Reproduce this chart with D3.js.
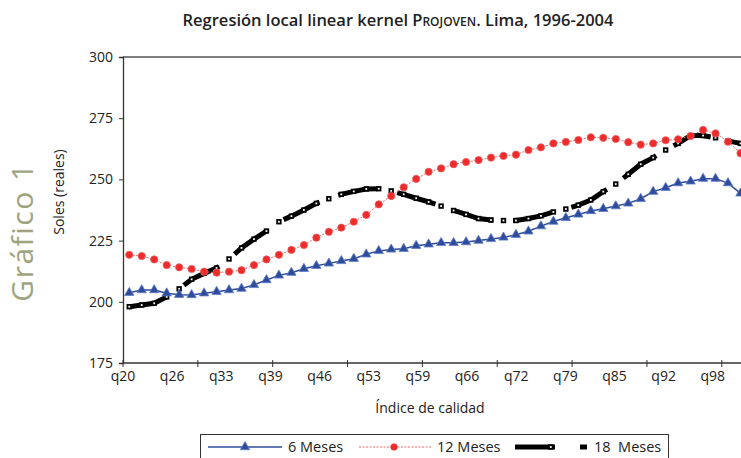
<!DOCTYPE html>
<html>
<head>
<meta charset="utf-8">
<script src="https://cdn.jsdelivr.net/npm/d3@7"></script>
<style>
    body { margin: 0; background: #fff; }
    svg { display: block; font-family: "Open Sans", Lato, sans-serif; }
</style>
</head>
<body>
<svg id="chart" width="741" height="458"></svg>
<script>
// category labels shown on the x axis (one every ~4 categories)
const xLabels = ['q20', 'q26', 'q33', 'q39', 'q46', 'q53', 'q59', 'q66', 'q72', 'q79', 'q85', 'q92', 'q98'];
const yTicks = [175, 200, 225, 250, 275, 300];

// ingresos estimados por kernel, 50 puntos de calidad
const meses6 = [203.7, 204.8, 204.8, 203.5, 202.9, 202.8, 203.5, 204.1, 204.8, 205.4,
    206.9, 208.9, 210.8, 211.9, 213.5, 214.7, 215.7, 216.7, 217.6, 219.4,
    220.8, 221.4, 221.7, 222.9, 223.5, 224.1, 224.1, 224.4, 225.0, 225.7,
    226.3, 227.4, 228.8, 230.9, 232.8, 234.3, 235.7, 237.1, 238.0, 239.1,
    240.2, 242.1, 245.0, 246.6, 248.5, 249.2, 250.3, 250.3, 248.5, 244.3];
const meses12 = [219.2, 218.7, 217.3, 215.0, 214.1, 213.4, 212.3, 211.9, 212.3, 212.9,
    215.0, 217.3, 219.2, 221.2, 223.2, 226.2, 228.6, 230.3, 232.7, 235.5,
    239.8, 243.2, 246.8, 250.2, 253.1, 254.5, 256.2, 257.1, 257.9, 258.9,
    259.6, 260.1, 262.0, 263.1, 264.7, 265.3, 266.1, 267.2, 267.0, 266.5,
    265.2, 264.2, 264.7, 266.0, 266.4, 267.7, 270.2, 268.8, 265.4, 260.7];
const meses18 = [198.0, 198.7, 199.4, 202.0, 205.3, 209.2, 211.6, 213.8, 217.5, 222.0,
    225.6, 228.9, 232.7, 235.0, 237.5, 240.2, 242.1, 243.9, 245.1, 246.1,
    246.2, 245.3, 243.9, 242.3, 240.8, 239.1, 237.3, 235.7, 234.0, 233.4,
    233.2, 233.2, 234.0, 235.1, 236.7, 237.9, 239.5, 241.6, 245.0, 248.1,
    252.1, 256.2, 258.9, 262.0, 264.7, 267.9, 267.9, 267.0, 265.7, 264.7];

const blue = '#2f4c9c';
const red = '#ee2b2b';

const chartLines = () => {
    const svg = d3.select('#chart');
    const left = 123, right = 741, top = 57, bottom = 363;

    // category axis: points sit in the middle of each category
    const x = d3.scaleLinear().domain([-0.5, 49.04]).range([left, right]);
    const y = d3.scaleLinear().domain([175, 300]).range([bottom, top]);

    // title
    const title = svg.append('text')
        .attr('x', 398).attr('y', 26)
        .attr('text-anchor', 'middle')
        .style('font-size', '16.5px')
        .style('font-weight', 600)
        .attr('fill', '#222');
    title.append('tspan').text('Regresión local linear kernel ');
    title.append('tspan').style('font-variant', 'small-caps').text('Projoven');
    title.append('tspan').text('. Lima, 1996-2004');

    // side label
    svg.append('text')
        .attr('transform', 'translate(33,232) rotate(-90)')
        .attr('text-anchor', 'middle')
        .style('font-size', '30px')
        .style('letter-spacing', '1.5px')
        .attr('fill', '#9fa47e')
        .text('Gráfico 1');

    svg.append('text')
        .attr('transform', 'translate(64,192) rotate(-90)')
        .attr('text-anchor', 'middle')
        .style('font-size', '14px')
        .attr('fill', '#222')
        .text('Soles (reales)');

    svg.append('text')
        .attr('x', 430).attr('y', 413)
        .attr('text-anchor', 'middle')
        .style('font-size', '14px')
        .attr('fill', '#222')
        .text('Índice de calidad');

    // frame
    svg.append('line')
        .attr('x1', left).attr('x2', right).attr('y1', top).attr('y2', top)
        .attr('stroke', '#555').attr('stroke-width', 1.3);

    // y axis
    const yAxis = svg.append('g')
        .attr('transform', `translate(${left},0)`)
        .call(d3.axisLeft(y).tickValues(yTicks).tickSize(4).tickPadding(6));
    yAxis.select('.domain').attr('stroke', '#333').attr('stroke-width', 1.3);
    yAxis.selectAll('.tick line').attr('stroke', '#333');
    yAxis.selectAll('.tick text')
        .style('font-size', '14px')
        .style('font-family', '"Open Sans", sans-serif')
        .attr('fill', '#222');

    // x axis: tick marks every 6 categories, labels every ~4
    const tickPos = d3.range(-0.5, 49, 6);
    const xAxis = svg.append('g').attr('transform', `translate(0,${bottom})`);
    xAxis.append('line')
        .attr('x1', left).attr('x2', right)
        .attr('stroke', '#333').attr('stroke-width', 1.3);
    xAxis.selectAll('line.tk')
        .data(tickPos)
        .join('line')
        .attr('class', 'tk')
        .attr('x1', d => x(d)).attr('x2', d => x(d))
        .attr('y1', -3).attr('y2', 4)
        .attr('stroke', '#333');
    xAxis.selectAll('text')
        .data(xLabels)
        .join('text')
        .attr('x', (d, i) => x(-0.5 + i * 3.94))
        .attr('y', 18)
        .attr('text-anchor', 'middle')
        .style('font-size', '14px')
        .attr('fill', '#222')
        .text(d => d);

    const line = d3.line()
        .x((d, i) => x(i))
        .y(d => y(d));

    // 18 meses: thick long-dash line with hollow squares
    svg.append('path')
        .datum(meses18)
        .attr('d', line)
        .attr('fill', 'none')
        .attr('stroke', '#000')
        .attr('stroke-width', 5)
        .attr('stroke-dasharray', '40,20');
    svg.append('g').selectAll('rect')
        .data(meses18)
        .join('rect')
        .attr('x', (d, i) => x(i) - 1.8)
        .attr('y', d => y(d) - 1.8)
        .attr('width', 3.6).attr('height', 3.6)
        .attr('fill', '#fff')
        .attr('stroke', '#000')
        .attr('stroke-width', 1.8);

    // 12 meses: thin dotted red line with dots
    svg.append('path')
        .datum(meses12)
        .attr('d', line)
        .attr('fill', 'none')
        .attr('stroke', '#f26a6a')
        .attr('stroke-width', 1)
        .attr('stroke-dasharray', '2,1.5');
    svg.append('g').selectAll('circle')
        .data(meses12)
        .join('circle')
        .attr('cx', (d, i) => x(i))
        .attr('cy', d => y(d))
        .attr('r', 3.6)
        .attr('fill', red)
        .attr('stroke', '#f35555')
        .attr('stroke-width', 0.8);

    // 6 meses: blue line with triangles
    const tri = d3.symbol().type(d3.symbolTriangle).size(38);
    svg.append('path')
        .datum(meses6)
        .attr('d', line)
        .attr('fill', 'none')
        .attr('stroke', blue)
        .attr('stroke-width', 1.5);
    svg.append('g').selectAll('path')
        .data(meses6)
        .join('path')
        .attr('d', tri)
        .attr('transform', (d, i) => `translate(${x(i)},${y(d)})`)
        .attr('fill', blue)
        .attr('stroke', '#5f7dc6')
        .attr('stroke-width', 0.8);

    // legend
    const lg = svg.append('g');
    lg.append('rect')
        .attr('x', 200.5).attr('y', 434.5)
        .attr('width', 468).attr('height', 40)
        .attr('fill', 'none')
        .attr('stroke', '#333');
    const ly = 447;
    lg.append('line')
        .attr('x1', 208).attr('x2', 282).attr('y1', ly).attr('y2', ly)
        .attr('stroke', blue).attr('stroke-width', 1.5);
    lg.append('path')
        .attr('d', tri)
        .attr('transform', `translate(245,${ly})`)
        .attr('fill', blue).attr('stroke', '#5f7dc6').attr('stroke-width', 0.8);
    lg.append('line')
        .attr('x1', 359).attr('x2', 431).attr('y1', ly).attr('y2', ly)
        .attr('stroke', '#f26a6a').attr('stroke-dasharray', '2,1.5');
    lg.append('circle')
        .attr('cx', 394).attr('cy', ly).attr('r', 3.5)
        .attr('fill', red);
    lg.append('line')
        .attr('x1', 515).attr('x2', 587).attr('y1', ly).attr('y2', ly)
        .attr('stroke', '#000').attr('stroke-width', 5)
        .attr('stroke-dasharray', '40,25');
    lg.append('rect')
        .attr('x', 549).attr('y', ly - 1.8)
        .attr('width', 3.6).attr('height', 3.6)
        .attr('fill', '#fff').attr('stroke', '#000').attr('stroke-width', 1.8);

    const names = [['6 Meses', 288], ['12 Meses', 437], ['18\u00a0 Meses', 594]];
    lg.selectAll('text.nm')
        .data(names)
        .join('text')
        .attr('class', 'nm')
        .attr('x', d => d[1])
        .attr('y', ly + 5)
        .style('font-size', '14.5px')
        .attr('fill', '#222')
        .text(d => d[0]);

    return svg.node();
};

chartLines();
</script>
</body>
</html>
